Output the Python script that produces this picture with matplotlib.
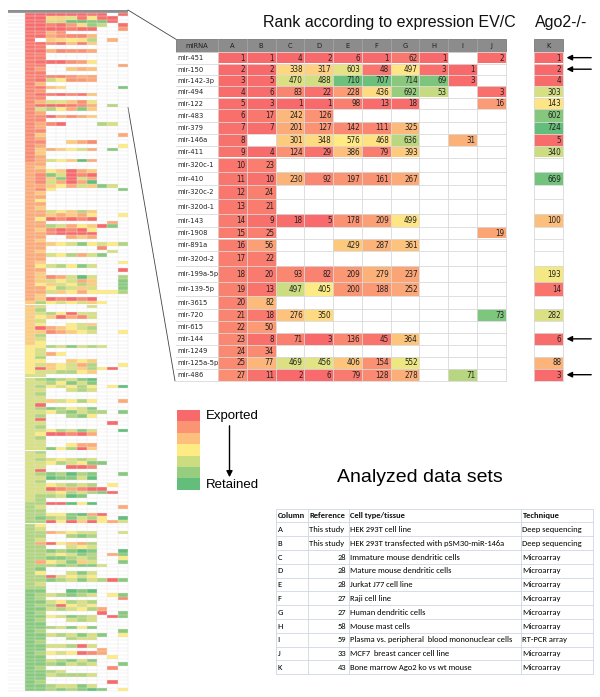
import numpy as np
import matplotlib
matplotlib.use('Agg')
import matplotlib.pyplot as plt
from matplotlib import colors as mcolors
from matplotlib import font_manager as fm
from matplotlib.patches import Rectangle

# --- data -------------------------------------------------------------
mirna = ['mir-451', 'mir-150', 'mir-142-3p', 'mir-494', 'mir-122', 'mir-483',
         'mir-379', 'mir-146a', 'mir-411', 'mir-320c-1', 'mir-410', 'mir-320c-2',
         'mir-320d-1', 'mir-143', 'mir-1908', 'mir-891a', 'mir-320d-2',
         'mir-199a-5p', 'mir-139-5p', 'mir-3615', 'mir-720', 'mir-615', 'mir-144',
         'mir-1249', 'mir-125a-5p', 'mir-486']
N = None
rank_A = [1, 2, 3, 4, 5, 6, 7, 8, 9, 10, 11, 12, 13, 14, 15, 16, 17, 18, 19, 20, 21, 22, 23, 24, 25, 27]
rank_B = [1, 2, 5, 6, 3, 17, 7, N, 4, 23, 10, 24, 21, 9, 25, 56, 22, 20, 13, 82, 18, 50, 8, 34, 77, 11]
rank_C = [4, 338, 470, 83, 1, 242, 201, 301, 124, N, 230, N, N, 18, N, N, N, 93, 497, N, 276, N, 71, N, 469, 2]
rank_D = [2, 317, 488, 22, 1, 126, 127, 348, 29, N, 92, N, N, 5, N, N, N, 82, 405, N, 350, N, 3, N, 456, 6]
rank_E = [6, 603, 710, 228, 98, N, 142, 576, 386, N, 197, N, N, 178, N, 429, N, 209, 200, N, N, N, 136, N, 406, 79]
rank_F = [1, 48, 707, 436, 13, N, 111, 468, 79, N, 161, N, N, 209, N, 287, N, 279, 188, N, N, N, 45, N, 154, 128]
rank_G = [62, 497, 714, 692, 18, N, 325, 636, 393, N, 267, N, N, 499, N, 361, N, 237, 252, N, N, N, 364, N, 552, 278]
rank_H = [1, 3, 69, 53, N, N, N, N, N, N, N, N, N, N, N, N, N, N, N, N, N, N, N, N, N, N]
rank_I = [N, 1, 3, N, N, N, N, 31, N, N, N, N, N, N, N, N, N, N, N, N, N, N, N, N, N, 71]
rank_J = [2, N, N, 3, 16, N, N, N, N, N, N, N, N, N, 19, N, N, N, N, N, 73, N, N, N, N, N]
rank_K = [1, 2, 4, 303, 143, 602, 724, 5, 340, N, 669, N, N, 100, N, N, N, 193, 14, N, 282, N, 6, N, 88, 3]
columns = ['A', 'B', 'C', 'D', 'E', 'F', 'G', 'H', 'I', 'J']
# estimated colour scale (midpoint / max rank) of each data set
col_mid = [95, 130, 400, 400, 580, 500, 520, 40, 55, 40]
col_max = [190, 260, 700, 700, 720, 720, 780, 75, 90, 80]
k_mid, k_max = 150, 730
flagged = ['mir-451', 'mir-150', 'mir-144', 'mir-486']

# overview thumbnail, rows below the zoomed part: shade 1 (red) .. 9 (green), '.' = no data
thumb_rest = [
    "2675384...", "23........", "2213234...", "22........", "2321...76.", "23........",
    "22........", "24.......3", "23........", "22..432...", "23.......5", "2434563.8.",
    "24........", "23........", "2365493...", "33........", "34........", "3354134...",
    "3286121...", "3248163...", "3263139...", "334536486.", "325......8", "34........",
    "33........", "35........", "33........", "34........", "3365474...", "3343435..5",
    "3512121...", "33......3.", "337635418.", "3421215...", "3321111...", "33..343...",
    "34........", "3345685657", "33.....2..", "34......6.", "33657368..", "33........",
    "34.......5", "3567586...", "33.......1", "34........", "3423696..7", "3465634..8",
    "3546574..8", "3357646..8", "3364535557", "34........", "3412121...", "47565645..",
    "46....6...", "47........", "4675166...", "4541326...", "46........", "45..564...",
    "4134567...", "4423456..5", "47........", "46........", "45........", "55768676..",
    "56........", "5635......", "57........", "55..454...", "5645637..5", "514564751.",
    "5667754...", "66........", "6787689...", "6675868...", "6756575.59", "66..676...",
    "67........", "66........", "6646575..3", "61........", "6787568...", "66578677.8",
    "67..785...", "61........", "66......1.", "67........", "6657686..9", "6511213...",
    "67........", "66........", "66..533...", "6685714...", "67........", "66........",
    "6765676...", "66576588..", "66..112...", "61........", "6787978..8", "6698869...",
    "67........", "6656767.5.", "66123211..", "666576781.", "677698....", "67........",
    "7711959...", "76.......3", "77........", "77558931..", "78768675.9", "7715141536",
    "75........", "76........", "7734566..6", "77..787...", "76........", "7315437...",
    "77..656...", "7787898..9", "7765687.38", "7788767..5", "7356846..8", "77787886..",
    "78........", "75..686...", "7716565...", "7787686718", "76........", "77........",
    "88..989...", "8767876.58", "87.......2", "8865767...", "8771565...", "88676573..",
    "87.....1.8", "8856876.18", "87..676...", "88........", "8876858...", "87.......8",
    "88676868.5", "88..766...", "87........", "8866716...", "88.....3..", "87565123..",
    "88......5.", "8867868...", "8878676..8", "87......2.", "8876......", "8867776...",
    "88........", "87......1.", "8876686...", "88787898.5",
]

ds_col = ['A', 'B', 'C', 'D', 'E', 'F', 'G', 'H', 'I', 'J', 'K']
ds_ref = ['This study', 'This study', '28', '28', '28', '27', '27', '58', '59', '33', '43']
ds_cell = ['HEK 293T cell line', 'HEK 293T transfected with pSM30-miR-146a',
           'Immature mouse dendritic cells', 'Mature mouse dendritic cells',
           'Jurkat J77 cell line', 'Raji cell line', 'Human dendritic cells',
           'Mouse mast cells', 'Plasma vs. peripheral  blood mononuclear cells',
           'MCF7  breast cancer cell line', 'Bone marrow Ago2 ko vs wt mouse']
ds_tech = ['Deep sequencing', 'Deep sequencing', 'Microarray', 'Microarray', 'Microarray',
           'Microarray', 'Microarray', 'Microarray', 'RT-PCR array', 'Microarray', 'Microarray']


def pick(*names):
    for n in names:
        try:
            fm.findfont(fm.FontProperties(family=n), fallback_to_default=False)
            return n
        except Exception:
            pass
    return None


# narrow face for the spreadsheet cells (Calibri-like look, squeezed)
narrow = pick('Liberation Sans Narrow')
if narrow:
    tfont = dict(family=narrow, fontsize=6.0)
    nfont = dict(family=narrow, fontsize=6.2)
elif any('Condensed' in f.fname for f in fm.fontManager.ttflist if 'DejaVuSans' in f.fname):
    tfont = dict(family='DejaVu Sans', stretch='condensed', fontsize=5.4)
    nfont = dict(family='DejaVu Sans', stretch='condensed', fontsize=5.8)
else:
    tfont = dict(family='DejaVu Sans', fontsize=4.9)
    nfont = dict(family='DejaVu Sans', fontsize=5.5)
calib = pick('Carlito', 'Lato', 'Open Sans') or 'DejaVu Sans'
arial = pick('Liberation Sans') or 'DejaVu Sans'

cmap = mcolors.LinearSegmentedColormap.from_list('xl', ['#F8696B', '#FFEB84', '#63BE7B'])
norms = [mcolors.TwoSlopeNorm(vcenter=m, vmin=1, vmax=x) for m, x in zip(col_mid, col_max)]
k_norm = mcolors.TwoSlopeNorm(vcenter=k_mid, vmin=1, vmax=k_max)
table = [rank_A, rank_B, rank_C, rank_D, rank_E, rank_F, rank_G, rank_H, rank_I, rank_J]

fig = plt.figure(figsize=(6, 6.97), dpi=100)
ax = fig.add_axes([0, 0, 1, 1])
ax.set_xlim(0, 600)
ax.set_ylim(697, 0)
ax.axis('off')

# --- main table ---
x_name, x_a, cw = 176, 218, 28.75
edges = x_a + cw * np.arange(11)
xk = 534
head_top, head_bot = 39.3, 51.8
row_h = [11.7, 11.4, 11.0, 11.6, 11.7, 12.3, 12.0, 12.4, 11.6, 14.7, 13.0, 13.3, 15.7,
         12.7, 11.6, 12.4, 15.0, 16.0, 14.0, 12.6, 12.4, 11.6, 12.7, 11.3, 12.0, 12.4]
row_y = head_bot + np.concatenate([[0], np.cumsum(row_h)])
grid = '#d9d9d9'

ax.add_patch(Rectangle((x_name, head_top), edges[-1] - x_name, head_bot - head_top,
                       fc='#8c8c8c', ec='#6a6a6a', lw=0.5))
ax.add_patch(Rectangle((xk, head_top), cw, head_bot - head_top, fc='#8c8c8c', ec='#6a6a6a', lw=0.5))
ax.text((x_name + x_a) / 2, (head_top + head_bot) / 2, 'miRNA', ha='center', va='center',
        color='#1e1e1e', **tfont)
for c, name in enumerate(columns):
    ax.text(edges[c] + cw / 2, (head_top + head_bot) / 2, name, ha='center', va='center',
            color='#1e1e1e', **tfont)
    ax.plot([edges[c], edges[c]], [head_top, head_bot], color='#a8a8a8', lw=0.5)
ax.text(xk + cw / 2, (head_top + head_bot) / 2, 'K', ha='center', va='center',
        color='#1e1e1e', **tfont)

for r, name in enumerate(mirna):
    y0, h = row_y[r], row_h[r]
    yc = y0 + h / 2 + 0.4
    ax.text(x_name + 1.5, yc, name, ha='left', va='center', color='#222222', **tfont)
    for c in range(10):
        v = table[c][r]
        if v is None:
            continue
        ax.add_patch(Rectangle((edges[c], y0), cw, h, fc=cmap(norms[c](v)), ec='none'))
        ax.text(edges[c + 1] - 1.5, yc, str(v), ha='right', va='center', color='#222222', **nfont)
    v = rank_K[r]
    if v is not None:
        ax.add_patch(Rectangle((xk, y0), cw, h, fc=cmap(k_norm(v)), ec='none'))
        ax.text(xk + cw - 1.5, yc, str(v), ha='right', va='center', color='#222222', **nfont)
    if name in flagged:
        ax.annotate('', xy=(xk + cw + 1, yc - 0.4), xytext=(594, yc - 0.4),
                    arrowprops=dict(arrowstyle='-|>', color='black', lw=1.0, mutation_scale=8))

for y in row_y:
    ax.plot([x_name, edges[-1]], [y, y], color=grid, lw=0.6, zorder=3)
    ax.plot([xk, xk + cw], [y, y], color=grid, lw=0.6, zorder=3)
for x in edges:
    ax.plot([x, x], [head_bot, row_y[-1]], color=grid, lw=0.6, zorder=3)
for x in (xk, xk + cw):
    ax.plot([x, x], [head_bot, row_y[-1]], color=grid, lw=0.6, zorder=3)

# --- overview thumbnail ---
tx, tname, tcw, ttop, thead, trh = 8, 17, 10.3, 10, 12.5, 3.65
tedges = tx + tname + tcw * np.arange(11)
ax.add_patch(Rectangle((tx, ttop), tedges[-1] - tx, thead - ttop, fc='#8e8e8e', ec='none'))
n_rows = len(mirna) + len(thumb_rest)
for r in range(n_rows):
    y0 = thead + r * trh
    for c in range(10):
        if r < len(mirna):
            v = table[c][r]
            col = None if v is None else cmap(norms[c](v))
        else:
            s = thumb_rest[r - len(mirna)][c]
            col = None if s == '.' else cmap((int(s) - 1) / 8)
        if col is not None:
            ax.add_patch(Rectangle((tedges[c], y0), tcw, trh, fc=col, ec='none'))
tb = thead + n_rows * trh
for r in range(n_rows + 1):
    ax.plot([tx, tedges[-1]], [thead + r * trh] * 2, color='#e4e4e4', lw=0.3, zorder=3)
for x in tedges:
    ax.plot([x, x], [thead, tb], color='#e4e4e4', lw=0.3, zorder=3)

# connector lines
ax.plot([tedges[-1], x_name], [ttop, head_top], color='#444444', lw=0.6)
ax.plot([tedges[-1], x_name - 1], [thead + len(mirna) * trh, row_y[-1]], color='#444444', lw=0.6)

# --- titles ---
ax.text(389, 22, 'Rank according to expression EV/C', ha='center', va='center',
        fontsize=11.5, family=arial, color='#111111')
ax.text(561, 22, 'Ago2-/-', ha='center', va='center', fontsize=11.5, family=arial, color='#111111')

# --- legend ---
lev = np.linspace(0, 1, 7)
for i, t in enumerate(lev):
    ax.add_patch(Rectangle((177, 410 + 11.4 * i), 23, 11.4, fc=cmap(t), ec='none'))
ax.text(206, 416, 'Exported', ha='left', va='center', fontsize=9.5, family=arial)
ax.text(206, 485, 'Retained', ha='left', va='center', fontsize=9.5, family=arial)
ax.annotate('', xy=(229.5, 480), xytext=(229.5, 423),
            arrowprops=dict(arrowstyle='-|>', color='black', lw=1.0, mutation_scale=9))

ax.text(420, 478, 'Analyzed data sets', ha='center', va='center', fontsize=14, family=arial)

# --- data set table ---
bx = [276, 307.5, 348.5, 521, 593]
by0, brh = 508.5, 13.8
bline = '#cfd6e4'
bfs = 6.1
heads = ['Column', 'Reference', 'Cell type/tissue', 'Technique']
for j, h in enumerate(heads):
    ax.text(bx[j] + 1.5, by0 + brh / 2 + 0.3, h, ha='left', va='center', fontsize=bfs,
            family=calib, weight='bold', color='#111111')
for i in range(len(ds_col)):
    yc = by0 + brh * (i + 1.5) + 0.3
    ax.text(bx[0] + 1.5, yc, ds_col[i], ha='left', va='center', fontsize=bfs, family=calib)
    if ds_ref[i].isdigit():
        ax.text(bx[2] - 2.5, yc, ds_ref[i], ha='right', va='center', fontsize=bfs, family=calib)
    else:
        ax.text(bx[1] + 1.5, yc, ds_ref[i], ha='left', va='center', fontsize=bfs, family=calib)
    ax.text(bx[2] + 1.2, yc, ds_cell[i], ha='left', va='center', fontsize=bfs, family=calib)
    ax.text(bx[3] + 1.5, yc, ds_tech[i], ha='left', va='center', fontsize=bfs, family=calib)
nb = len(ds_col) + 1
for i in range(nb + 1):
    ax.plot([bx[0], bx[-1]], [by0 + brh * i] * 2, color=bline, lw=0.6)
for x in bx:
    ax.plot([x, x], [by0, by0 + brh * nb], color=bline, lw=0.6)

fig.savefig('out.png', dpi=100)
